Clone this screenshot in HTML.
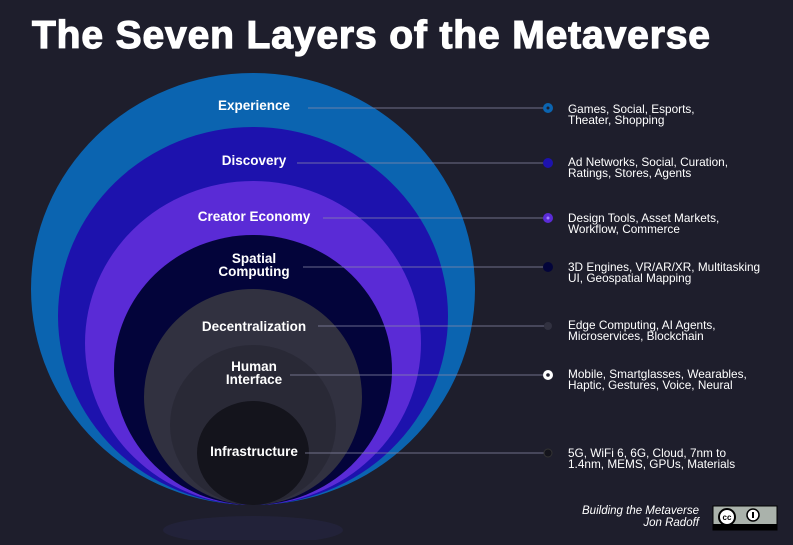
<!DOCTYPE html>
<html><head><meta charset="utf-8"><style>
body{margin:0;background:#1e1e2c;width:793px;height:540px;overflow:hidden;font-family:"Liberation Sans",sans-serif}
</style></head><body>
<svg width="793" height="540" xmlns="http://www.w3.org/2000/svg">
<rect width="793" height="540" fill="#1e1e2c"/>
<text x="32" y="48" fill="#fff" stroke="#fff" stroke-width="1.2" font-size="39" font-weight="bold" font-family="Liberation Sans, sans-serif" textLength="678">The Seven Layers of the Metaverse</text>
<ellipse cx="253" cy="530" rx="90" ry="14" fill="#2a2a52" opacity="0.35"/>
<ellipse cx="253" cy="289" rx="222" ry="216" fill="#0b64b0"/>
<ellipse cx="253" cy="316" rx="195" ry="189" fill="#1d12ad"/>
<ellipse cx="253" cy="343" rx="168" ry="162" fill="#5a2bd6"/>
<ellipse cx="253" cy="370" rx="139" ry="135" fill="#03043a"/>
<ellipse cx="253" cy="397" rx="109" ry="108" fill="#313140"/>
<ellipse cx="253" cy="425" rx="83" ry="80" fill="#292936"/>
<ellipse cx="253" cy="453" rx="56" ry="52" fill="#14141c"/>
<g fill="#fff" font-weight="bold" font-size="13.5" text-anchor="middle" font-family="Liberation Sans, sans-serif">
<text x="254" y="110">Experience</text>
<text x="254" y="165">Discovery</text>
<text x="254" y="221">Creator Economy</text>
<text x="254" y="263">Spatial</text>
<text x="254" y="276">Computing</text>
<text x="254" y="331">Decentralization</text>
<text x="254" y="371">Human</text>
<text x="254" y="384">Interface</text>
<text x="254" y="456">Infrastructure</text>
</g>
<g stroke="#8a8aa8" stroke-width="0.8">
<line x1="308" y1="108" x2="545" y2="108"/>
<line x1="297" y1="163" x2="545" y2="163"/>
<line x1="323" y1="218" x2="545" y2="218"/>
<line x1="303" y1="267" x2="545" y2="267"/>
<line x1="318" y1="326" x2="545" y2="326"/>
<line x1="290" y1="375" x2="545" y2="375"/>
<line x1="305" y1="453" x2="545" y2="453"/>
</g>
<circle cx="548" cy="108" r="5" fill="#0b64b0"/><circle cx="548" cy="108" r="1.5" fill="#1e1e2c"/>
<circle cx="548" cy="163" r="5" fill="#1d12ad"/>
<circle cx="548" cy="218" r="5" fill="#5a2bd6"/><circle cx="548" cy="218" r="1.5" fill="#a080ff"/>
<circle cx="548" cy="267" r="5" fill="#03043a"/>
<circle cx="548" cy="326" r="4" fill="#313140"/>
<circle cx="548" cy="375" r="5" fill="#fff"/><circle cx="548" cy="375" r="1.8" fill="#1e1e2c"/>
<circle cx="548" cy="453" r="4" fill="#14141c" stroke="#333" stroke-width="1"/>
<g fill="#fff" font-size="11.8" font-family="Liberation Sans, sans-serif">
<text x="568" y="113">Games, Social, Esports,</text><text x="568" y="124">Theater, Shopping</text>
<text x="568" y="166">Ad Networks, Social, Curation,</text><text x="568" y="177">Ratings, Stores, Agents</text>
<text x="568" y="222">Design Tools, Asset Markets,</text><text x="568" y="233">Workflow, Commerce</text>
<text x="568" y="271">3D Engines, VR/AR/XR, Multitasking</text><text x="568" y="282">UI, Geospatial Mapping</text>
<text x="568" y="329">Edge Computing, AI Agents,</text><text x="568" y="340">Microservices, Blockchain</text>
<text x="568" y="378">Mobile, Smartglasses, Wearables,</text><text x="568" y="389">Haptic, Gestures, Voice, Neural</text>
<text x="568" y="457">5G, WiFi 6, 6G, Cloud, 7nm to</text><text x="568" y="468">1.4nm, MEMS, GPUs, Materials</text>
</g>
<g fill="#fff" font-size="11.5" font-style="italic" text-anchor="end" font-family="Liberation Sans, sans-serif">
<text x="699" y="514">Building the Metaverse</text><text x="699" y="526">Jon Radoff</text>
</g>
<rect x="713" y="506" width="64" height="24" fill="#aab2ab" stroke="#000"/>
<rect x="713" y="524" width="64" height="6" fill="#000"/>
<circle cx="727" cy="517" r="8" fill="#fff" stroke="#000" stroke-width="2"/>
<text x="727" y="520" font-size="8" font-weight="bold" text-anchor="middle" fill="#000">cc</text>
<circle cx="753" cy="515" r="6" fill="#fff" stroke="#000" stroke-width="1.5"/>
<rect x="752" y="512" width="2" height="6" fill="#000"/>
</svg>
</body></html>
